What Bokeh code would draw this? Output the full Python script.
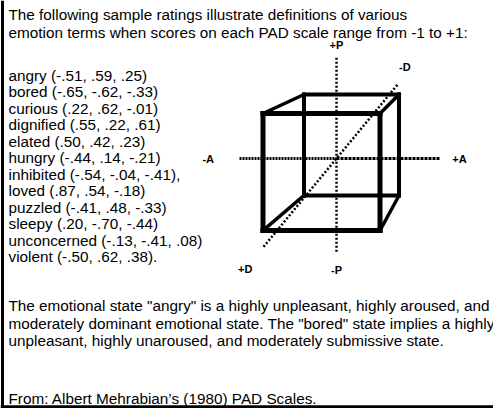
from bokeh.plotting import figure
from bokeh.models import Range1d
from bokeh.core.properties import value
from bokeh.embed import file_html
from bokeh.resources import INLINE

# ---- data -------------------------------------------------------------
header_lines = [
    "The following sample ratings illustrate definitions of various",
    "emotion terms when scores on each PAD scale range from -1 to +1:",
]
emotions = ["angry", "bored", "curious", "dignified", "elated", "hungry",
            "inhibited", "loved", "puzzled", "sleepy", "unconcerned", "violent"]
pleasure = [-.51, -.65, .22, .55, .50, -.44, -.54, .87, -.41, .20, -.13, -.50]
arousal = [.59, -.62, .62, .22, .42, .14, -.04, .54, .48, -.70, -.41, .62]
dominance = [.25, -.33, -.01, .61, .23, -.21, -.41, -.18, -.33, -.44, .08, .38]
suffixes = ["", "", "", "", "", "", ",", "", "", "", "", "."]
paragraph_lines = [
    'The emotional state "angry"  is a highly unpleasant, highly aroused, and',
    'moderately dominant emotional state. The "bored" state implies a highly',
    'unpleasant, highly unaroused, and moderately submissive state.',
]
footer = "From: Albert Mehrabian\u2019s (1980) PAD Scales."
axis_labels = ["+P", "-P", "-A", "+A", "-D", "+D"]


def fmt(v):
    s = f"{v:.2f}"
    return s.replace("0.", ".")


items = [f"{n} ({fmt(p)}, {fmt(a)}, {fmt(d)}){s}"
         for n, p, a, d, s in zip(emotions, pleasure, arousal, dominance, suffixes)]

# ---- layout ----------------------------------------------------------
W, H = 493, 408
p = figure(width=W, height=H, output_backend="svg", toolbar_location=None,
           x_range=Range1d(0, W), y_range=Range1d(H, 0),
           min_border=0, min_border_left=0, min_border_right=0,
           min_border_top=0, min_border_bottom=0)
p.axis.visible = False
p.grid.visible = False
p.outline_line_color = None
p.background_fill_color = "white"
p.border_fill_color = "white"

FONT = value("Liberation Sans")
TX = 8
FS = "15.3px"

p.text(x=[TX] * 2, y=[13.5, 31.5], text=header_lines, text_font=FONT,
       text_font_size=FS, text_baseline="middle", text_color="black")
y0, dy = 74.5, 16.5
p.text(x=[TX] * len(items), y=[y0 + i * dy for i in range(len(items))],
       text=items, text_font=FONT, text_font_size=FS,
       text_baseline="middle", text_color="black")
p.text(x=[TX] * 3, y=[305 + i * 17.5 for i in range(3)], text=paragraph_lines,
       text_font=FONT, text_font_size=FS, text_baseline="middle",
       text_color="black")
p.text(x=[TX], y=[398], text=[footer], text_font=FONT, text_font_size=FS,
       text_baseline="middle", text_color="black")

# frame borders (left and bottom)
p.segment(x0=[0, 2], y0=[406.5, 0], x1=[W, 2], y1=[406.5, 408],
          line_color="black", line_width=[3.5, 3])

# ---- PAD cube (simple perspective projection) -------------------------
OX, OY = 336, 158


def proj(A, P, D):
    cx = OX - 15 * D
    cy = OY + 13.5 * D
    hw = 53 + 5.5 * D
    hh = 54.5 + 4 * D
    return cx + A * hw, cy - P * hh


def edge(a, b, w):
    x0, y0_ = proj(*a)
    x1, y1 = proj(*b)
    p.line([x0, x1], [y0_, y1], line_color="black", line_width=w,
           line_cap="square", line_join="miter")


# axes (dotted)
ax0, ay0 = proj(-1.83, 0, 0)
ax1, ay1 = proj(0, 0, 0)
ax2, ay2 = proj(1.96, 0, 0)
p.line([ax0, ax1], [ay0, ay1], line_color="black", line_width=3, line_dash="2 1")
p.line([ax1, ax2], [ay1, ay2], line_color="black", line_width=3, line_dash="3 1")
px0, py0 = proj(0, 1.85, 0)
px1, py1 = proj(0, -1.74, 0)
p.line([px0, px1], [py0, py1], line_color="black", line_width=2.5, line_dash="2 2")
# depth axis drawn along its own diagonal
DVX, DVY = -38, 46
p.line([OX - 1.6 * DVX, OX + 1.95 * DVX], [OY - 1.6 * DVY, OY + 1.95 * DVY],
       line_color="black", line_width=2.5, line_dash="2 2")

# back face
for a, b in [((-1, 1, -1), (1, 1, -1)), ((1, 1, -1), (1, -1, -1)),
             ((1, -1, -1), (-1, -1, -1)), ((-1, -1, -1), (-1, 1, -1))]:
    edge(a, b, 4)
# connecting edges
for A in (-1, 1):
    for P in (-1, 1):
        edge((A, P, -1), (A, P, 1), 3.5)
# front face
for a, b in [((-1, 1, 1), (1, 1, 1)), ((1, 1, 1), (1, -1, 1)),
             ((1, -1, 1), (-1, -1, 1)), ((-1, -1, 1), (-1, 1, 1))]:
    edge(a, b, 5)

# axis labels
lab_pos = [proj(0, 2.09, 0), proj(0, -2.05, 0), proj(-2.42, 0, 0),
           proj(2.32, 0, 0), (OX - 1.8 * DVX, OY - 2.0 * DVY),
           (OX + 2.4 * DVX, OY + 2.4 * DVY)]
p.text(x=[q[0] for q in lab_pos], y=[q[1] for q in lab_pos], text=axis_labels,
       text_font=FONT, text_font_size="11px", text_font_style="bold",
       text_align="center", text_baseline="middle", text_color="black")

open("out.html", "w").write(file_html(p, INLINE))
